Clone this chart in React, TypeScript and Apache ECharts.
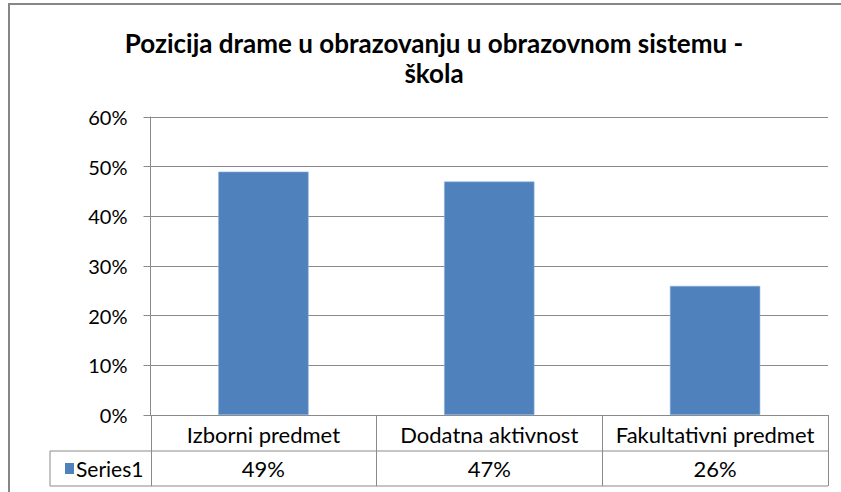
import React, { useEffect, useRef } from "react";
import * as echarts from "echarts";

const categories = ["Izborni predmet", "Dodatna aktivnost", "Fakultativni predmet"];
const values = [0.49, 0.47, 0.26];
const seriesName = "Series1";
const titleText = "Pozicija drame u obrazovanju u obrazovnom sistemu -\nškola";
const yTicks = { min: 0, max: 0.6, interval: 0.1 };

const FONT = 'Lato, "Open Sans", sans-serif';
const GRID = "#8a8a8a";

const pct = (v: number) => `${Math.round(v * 100)}%`;

export default function App() {
  const ref = useRef<HTMLDivElement>(null);
  useEffect(() => {
    if (!ref.current) return;
    const chart = echarts.init(ref.current, null, { renderer: "svg" });
    const L = 150.5, R = 828, T0 = 415, T1 = 451, T2 = 486, TL = 50;
    const colW = (R - L) / categories.length;
    const lineStyle = { stroke: GRID, lineWidth: 1 };
    const tableLines: any[] = [
      { type: "line", shape: { x1: TL, y1: T1, x2: R, y2: T1 }, style: lineStyle },
      { type: "line", shape: { x1: TL, y1: T2, x2: R, y2: T2 }, style: lineStyle },
      { type: "line", shape: { x1: TL, y1: T1, x2: TL, y2: T2 }, style: lineStyle },
    ];
    for (let i = 0; i <= categories.length; i++) {
      const x = Math.round(L + colW * i) + 0.5;
      tableLines.push({ type: "line", shape: { x1: x, y1: T0, x2: x, y2: T2 }, style: lineStyle });
    }
    chart.setOption({
      animation: false,
      backgroundColor: "#ffffff",
      title: {
        text: titleText,
        left: 429,
        top: 23,
        textAlign: "center",
        textStyle: { fontFamily: FONT, fontWeight: "bold", fontSize: 26, lineHeight: 30, color: "#000" },
      },
      grid: { left: L, right: 841 - R, top: 117, bottom: 492 - T0, containLabel: false },
      xAxis: [
        {
          type: "category",
          data: categories,
          position: "bottom",
          axisLine: { show: true, lineStyle: { color: GRID } },
          axisTick: { show: false },
          axisLabel: { interval: 0, margin: 8, fontFamily: FONT, fontSize: 22, color: "#000" },
        },
        {
          type: "category",
          data: values.map(pct),
          position: "bottom",
          offset: 35,
          axisLine: { show: false },
          axisTick: { show: false },
          axisLabel: { interval: 0, margin: 7, fontFamily: FONT, fontSize: 22, color: "#000" },
        },
      ],
      yAxis: {
        type: "value",
        min: yTicks.min,
        max: yTicks.max,
        interval: yTicks.interval,
        axisLine: { show: true, lineStyle: { color: GRID } },
        axisTick: { show: true, length: 7, lineStyle: { color: GRID } },
        axisLabel: { formatter: (v: number) => pct(v), fontFamily: FONT, fontSize: 20, color: "#000", margin: 23 },
        splitLine: { show: true, lineStyle: { color: GRID } },
      },
      series: [
        {
          name: seriesName,
          type: "bar",
          data: values,
          barWidth: "40%",
          itemStyle: { color: "#4F81BD", borderColor: "#8fb0da", borderWidth: 0.6 },
        },
      ],
      graphic: [
        { type: "rect", shape: { x: 9, y: 4, width: 900, height: 600 }, style: { fill: "none", stroke: "#868686", lineWidth: 2 }, silent: true },
        ...tableLines,
        { type: "rect", shape: { x: 65, y: 463, width: 9, height: 11 }, style: { fill: "#4F81BD" } },
        { type: "text", x: 76, y: 468.5, style: { text: seriesName, font: `21px ${FONT}`, fill: "#000", textVerticalAlign: "middle" } },
      ],
    });
    return () => chart.dispose();
  }, []);
  return <div ref={ref} style={{ width: 841, height: 492, position: "absolute", left: 0, top: 0 }} />;
}
